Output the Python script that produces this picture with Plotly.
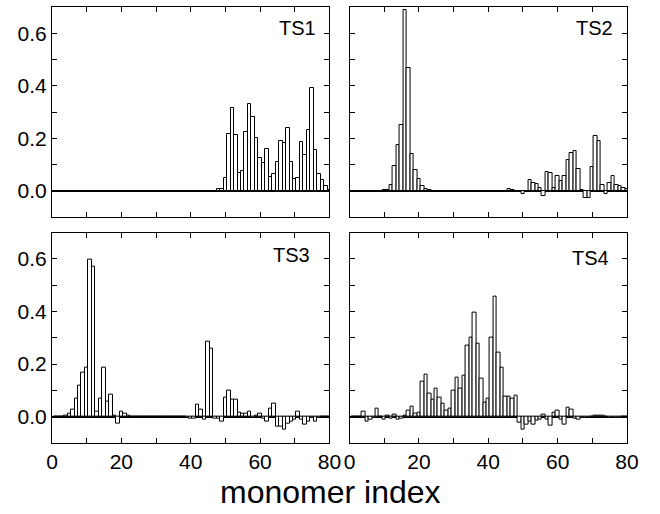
import plotly.graph_objects as go
from plotly.subplots import make_subplots

# monomer index 1..80
monomer = list(range(1, 81))

ts1 = [0.0] * 45 + [0.002, 0.002, 0.007, 0.007,
       0.049, 0.217, 0.317, 0.213, 0.070, 0.077, 0.226, 0.332, 0.280, 0.203,
       0.124, 0.105, 0.160, 0.055, 0.064, 0.110, 0.189, 0.184, 0.240, 0.111,
       0.046, 0.051, 0.186, 0.137, 0.231, 0.393, 0.156, 0.066, 0.041, 0.018,
       0.005]

ts2 = [0.0] * 9 + [0.003, 0.006, 0.023, 0.096, 0.175, 0.251, 0.689, 0.467,
       0.140, 0.082, 0.046, 0.020, 0.009, 0.004] + [0.0] * 22 + [
       0.009, 0.005, 0.002, -0.004, -0.012, 0.0, 0.044, 0.030, 0.027, 0.011,
       -0.020, 0.072, 0.070, 0.013, 0.057, 0.039, 0.056, 0.119, 0.144, 0.152,
       0.083, 0.003, -0.027, -0.027, 0.090, 0.208, 0.190, 0.023, -0.010, 0.032,
       0.057, 0.024, 0.019, 0.013, 0.008]

ts3 = [0.0] * 3 + [0.004, 0.013, 0.028, 0.070, 0.117, 0.166, 0.186, 0.596,
       0.572, 0.020, 0.068, 0.186, 0.056, 0.084, 0.003, -0.027, 0.018, 0.010,
       0.004] + [0.0] * 16 + [
       -0.003, -0.008, -0.008, 0.045, 0.026, -0.010, 0.286, 0.258, -0.006,
       -0.006, -0.018, 0.074, 0.098, 0.066, 0.066, 0.015, 0.011, 0.011, 0.021,
       -0.004, 0.006, 0.013, -0.008, -0.018, 0.031, 0.048, -0.038, -0.039,
       -0.048, -0.025, -0.018, -0.010, 0.020, -0.010, -0.029, -0.018, -0.003,
       -0.020, -0.005, 0.002, 0.0, 0.0]

ts4 = [0.0] * 3 + [0.018, -0.018, -0.010, -0.003, 0.032, 0.0, -0.011, 0.006,
       -0.008, 0.009, -0.011, -0.006, 0.004, 0.025, 0.040, 0.013, 0.016, 0.133,
       0.161, 0.089, 0.065, 0.108, 0.072, 0.048, 0.025, 0.032, 0.101, 0.148,
       0.105, 0.157, 0.270, 0.299, 0.396, 0.278, 0.146, 0.053, 0.067, 0.299,
       0.456, 0.244, 0.188, 0.075, 0.075, 0.070, 0.079, -0.023, -0.051, -0.029,
       -0.020, -0.029, -0.015, -0.010, 0.009, -0.010, -0.034, 0.014, 0.025,
       -0.012, -0.029, 0.033, 0.026, -0.008, -0.010, -0.005, -0.003, -0.002,
       0.002, 0.006, 0.005, 0.003, 0.002, -0.003, -0.003, -0.003, -0.002,
       0.002, 0.002]

panels = [("TS1", ts1, 1, 1), ("TS2", ts2, 1, 2), ("TS3", ts3, 2, 1), ("TS4", ts4, 2, 2)]

xticks = list(range(0, 81, 10))
xlabels = [str(v) if v % 20 == 0 else "" for v in xticks]
yticks = [-0.1, 0.0, 0.1, 0.2, 0.3, 0.4, 0.5, 0.6, 0.7]
ylabels = ["", "0.0", "", "0.2", "", "0.4", "", "0.6", ""]

FONT = "Liberation Sans, Arial, sans-serif"

fig = make_subplots(rows=2, cols=2, horizontal_spacing=0.035, vertical_spacing=0.035)

for name, vals, r, c in panels:
    fig.add_trace(go.Bar(
        x=monomer, y=vals, width=1,
        marker=dict(color="white", line=dict(color="black", width=1)),
        showlegend=False,
    ), row=r, col=c)

# panel labels: (domain x right edge, domain y middle)
label_pos = {"TS1": (0.958, 0.90), "TS2": (0.956, 0.90), "TS3": (0.936, 0.894), "TS4": (0.941, 0.88)}
for i, (name, vals, r, c) in enumerate(panels):
    n = "" if i == 0 else str(i + 1)
    lx, ly = label_pos[name]
    fig.add_annotation(text=name, xref=f"x{n} domain", yref=f"y{n} domain",
                       x=lx, y=ly, xanchor="right", yanchor="middle",
                       showarrow=False, font=dict(size=20, color="black", family=FONT))

fig.update_xaxes(range=[0, 80], tickvals=xticks, ticktext=xlabels,
                 ticks="inside", ticklen=5, tickwidth=1, tickcolor="black",
                 showline=True, linecolor="black", linewidth=1, mirror="ticks",
                 showgrid=False, zeroline=False, tickfont=dict(size=21))
fig.update_xaxes(showticklabels=False, row=1)
fig.update_yaxes(range=[-0.1, 0.7], tickvals=yticks, ticktext=ylabels,
                 ticks="inside", ticklen=5, tickwidth=1, tickcolor="black",
                 showline=True, linecolor="black", linewidth=1, mirror="ticks",
                 showgrid=False, zeroline=True, zerolinecolor="black", zerolinewidth=2,
                 tickfont=dict(size=21))
fig.update_yaxes(showticklabels=False, col=2)

fig.add_annotation(text="monomer index", xref="paper", yref="paper",
                   x=0.4835, y=-0.113, xanchor="center", yanchor="middle",
                   showarrow=False, font=dict(size=32, color="black", family=FONT))

fig.update_layout(
    width=660, height=514,
    margin=dict(l=52, r=33, t=7, b=71),
    paper_bgcolor="white", plot_bgcolor="white",
    bargap=0,
    font=dict(family=FONT, size=20, color="black"),
)

# page body has a default 8px margin; drop it so the figure sits at the corner
fig.write_html("out.html", config={"displayModeBar": False},
               post_script="document.body.style.margin='0';")
